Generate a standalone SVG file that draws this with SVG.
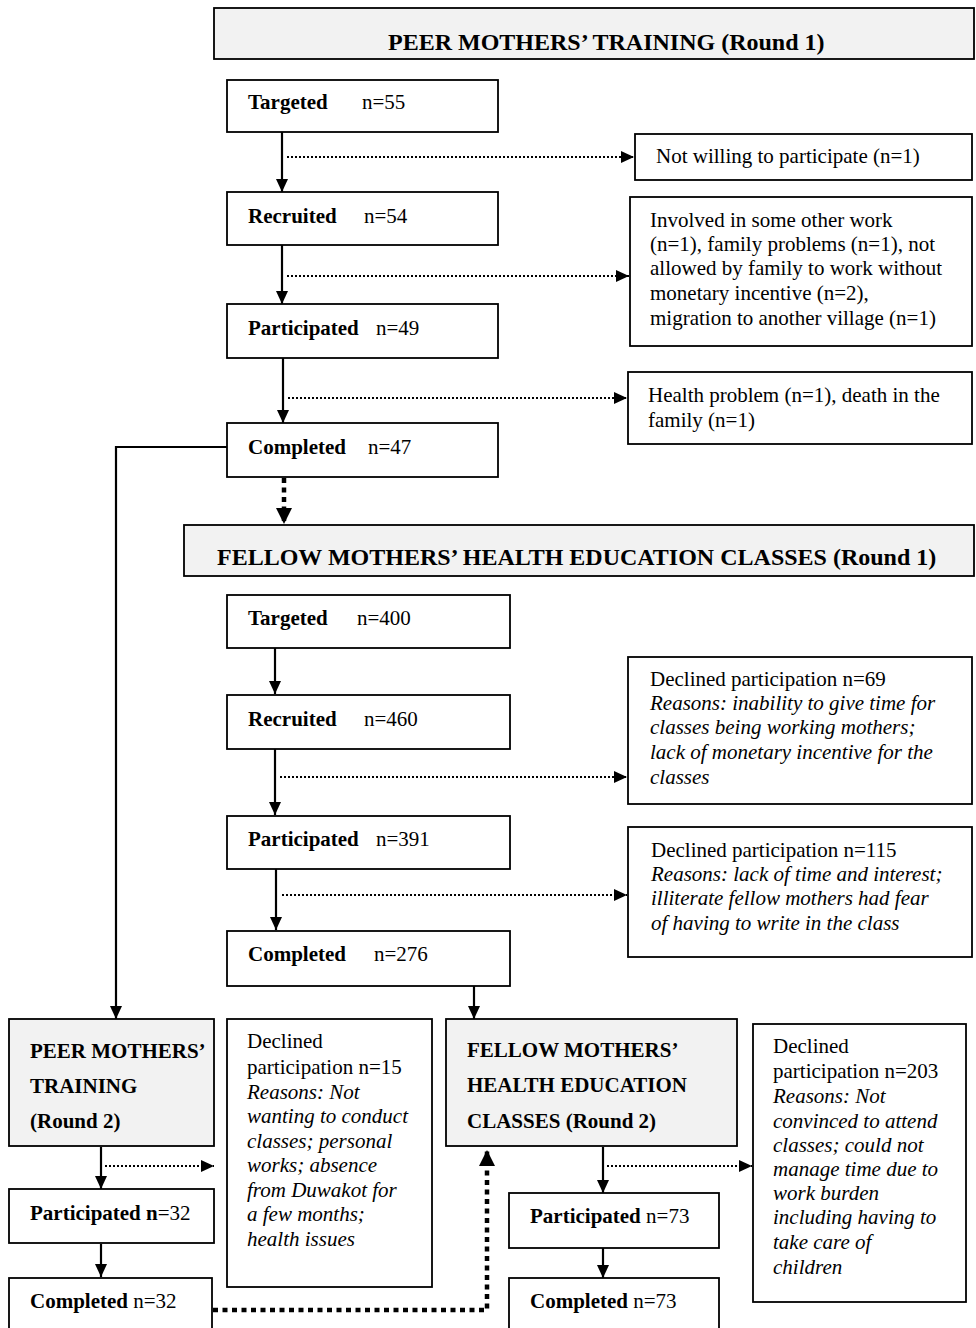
<svg xmlns="http://www.w3.org/2000/svg" width="976" height="1328" viewBox="0 0 976 1328">
<style>
text{font-family:"Liberation Serif","Times New Roman",serif;font-size:21px;fill:#000}
.b{font-weight:bold}
.h{font-weight:bold;font-size:24px}
.i{font-style:italic}
.box{fill:#fff;stroke:#000;stroke-width:1.8}
.hdr{fill:#f2f2f2;stroke:#000;stroke-width:1.8}
.sol{fill:none;stroke:#000;stroke-width:2.2}
.dot{fill:none;stroke:#000;stroke-width:2;stroke-dasharray:2 2}
.thk{fill:none;stroke:#000;stroke-width:4.5;stroke-dasharray:5 4.5}
</style>
<defs>
<marker id="ah" markerUnits="userSpaceOnUse" markerWidth="14" markerHeight="14" refX="13" refY="7" orient="auto"><path d="M0,1 L13,7 L0,13 z" fill="#000"/></marker>
<marker id="ahb" markerUnits="userSpaceOnUse" markerWidth="18" markerHeight="18" refX="16" refY="9" orient="auto"><path d="M0,1 L16,9 L0,17 z" fill="#000"/></marker>
</defs>

<g id="connectors">
<line class="sol" x1="282" y1="132" x2="282" y2="192" marker-end="url(#ah)"/>
<line class="dot" x1="287" y1="157" x2="634" y2="157" marker-end="url(#ah)"/>
<line class="sol" x1="282" y1="245" x2="282" y2="304" marker-end="url(#ah)"/>
<line class="dot" x1="287" y1="276" x2="629" y2="276" marker-end="url(#ah)"/>
<line class="sol" x1="283" y1="358" x2="283" y2="423" marker-end="url(#ah)"/>
<line class="dot" x1="288" y1="398" x2="627" y2="398" marker-end="url(#ah)"/>
<polyline class="sol" points="227,447 116,447 116,1019" marker-end="url(#ah)"/>
<line class="thk" x1="284" y1="478" x2="284" y2="524" marker-end="url(#ahb)"/>
<line class="sol" x1="275" y1="648" x2="275" y2="694" marker-end="url(#ah)"/>
<line class="sol" x1="275" y1="749" x2="275" y2="815" marker-end="url(#ah)"/>
<line class="dot" x1="280" y1="777" x2="627" y2="777" marker-end="url(#ah)"/>
<line class="sol" x1="276" y1="869" x2="276" y2="930" marker-end="url(#ah)"/>
<line class="dot" x1="282" y1="895" x2="627" y2="895" marker-end="url(#ah)"/>
<line class="sol" x1="474" y1="986" x2="474" y2="1019" marker-end="url(#ah)"/>
<line class="sol" x1="101" y1="1147" x2="101" y2="1189" marker-end="url(#ah)"/>
<line class="dot" x1="105" y1="1166" x2="214" y2="1166" marker-end="url(#ah)"/>
<line class="sol" x1="101" y1="1244" x2="101" y2="1277" marker-end="url(#ah)"/>
<line class="sol" x1="603" y1="1147" x2="603" y2="1193" marker-end="url(#ah)"/>
<line class="dot" x1="607" y1="1166" x2="752" y2="1166" marker-end="url(#ah)"/>
<line class="sol" x1="603" y1="1248" x2="603" y2="1278" marker-end="url(#ah)"/>
<polyline class="thk" points="213,1310 487,1310 487,1150" marker-end="url(#ahb)"/>
</g>

<g id="hdr1"><rect class="hdr" x="214" y="8" width="760" height="51"/><text class="h" x="388" y="50">PEER MOTHERS’ TRAINING (Round 1)</text></g>
<g id="targeted1"><rect class="box" x="227" y="80" width="271" height="52"/><text class="b" x="248" y="109">Targeted</text><text x="362" y="109">n=55</text></g>
<g id="notwilling"><rect class="box" x="635" y="134" width="337" height="46"/><text x="656" y="163">Not willing to participate (n=1)</text></g>
<g id="recruited1"><rect class="box" x="227" y="192" width="271" height="53"/><text class="b" x="248" y="223">Recruited</text><text x="364" y="223">n=54</text></g>
<g id="reasons1"><rect class="box" x="630" y="197" width="342" height="149"/>
<text x="650" y="227">Involved in some other work</text>
<text x="650" y="251">(n=1), family problems (n=1), not</text>
<text x="650" y="275">allowed by family to work without</text>
<text x="650" y="300">monetary incentive (n=2),</text>
<text x="650" y="325">migration to another village (n=1)</text></g>
<g id="participated1"><rect class="box" x="227" y="304" width="271" height="54"/><text class="b" x="248" y="335">Participated</text><text x="376" y="335">n=49</text></g>
<g id="health"><rect class="box" x="628" y="372" width="344" height="72"/>
<text x="648" y="402">Health problem (n=1), death in the</text>
<text x="648" y="427">family (n=1)</text></g>
<g id="completed1"><rect class="box" x="227" y="423" width="271" height="54"/><text class="b" x="248" y="454">Completed</text><text x="368" y="454">n=47</text></g>

<g id="hdr2"><rect class="hdr" x="184" y="525" width="790" height="51"/><text class="h" x="217" y="565">FELLOW MOTHERS’ HEALTH EDUCATION CLASSES (Round 1)</text></g>
<g id="targeted2"><rect class="box" x="227" y="595" width="283" height="53"/><text class="b" x="248" y="625">Targeted</text><text x="357" y="625">n=400</text></g>
<g id="declined69"><rect class="box" x="628" y="657" width="344" height="147"/>
<text x="650" y="686">Declined participation n=69</text>
<text class="i" x="650" y="710">Reasons: inability to give time for</text>
<text class="i" x="650" y="734">classes being working mothers;</text>
<text class="i" x="650" y="759">lack of monetary incentive for the</text>
<text class="i" x="650" y="784">classes</text></g>
<g id="recruited2"><rect class="box" x="227" y="695" width="283" height="54"/><text class="b" x="248" y="726">Recruited</text><text x="364" y="726">n=460</text></g>
<g id="participated2"><rect class="box" x="227" y="816" width="283" height="53"/><text class="b" x="248" y="846">Participated</text><text x="376" y="846">n=391</text></g>
<g id="declined115"><rect class="box" x="628" y="827" width="344" height="130"/>
<text x="651" y="857">Declined participation n=115</text>
<text class="i" x="651" y="881">Reasons: lack of time and interest;</text>
<text class="i" x="651" y="905">illiterate fellow mothers had fear</text>
<text class="i" x="651" y="930">of having to write in the class</text></g>
<g id="completed2"><rect class="box" x="227" y="931" width="283" height="55"/><text class="b" x="248" y="961">Completed</text><text x="374" y="961">n=276</text></g>

<g id="peer2"><rect class="hdr" x="9" y="1019" width="205" height="127"/>
<text class="b" x="30" y="1058">PEER MOTHERS’</text>
<text class="b" x="30" y="1093">TRAINING</text>
<text class="b" x="30" y="1128">(Round 2)</text></g>
<g id="declined15"><rect class="box" x="227" y="1019" width="205" height="268"/>
<text x="247" y="1048">Declined</text>
<text x="247" y="1074">participation n=15</text>
<text class="i" x="247" y="1099">Reasons: Not</text>
<text class="i" x="247" y="1123">wanting to conduct</text>
<text class="i" x="247" y="1148">classes; personal</text>
<text class="i" x="247" y="1172">works; absence</text>
<text class="i" x="247" y="1197">from Duwakot for</text>
<text class="i" x="247" y="1221">a few months;</text>
<text class="i" x="247" y="1246">health issues</text></g>
<g id="participated3"><rect class="box" x="9" y="1189" width="205" height="54"/><text x="30" y="1220"><tspan class="b">Participated n</tspan>=32</text></g>
<g id="completed3"><rect class="box" x="9" y="1278" width="203" height="60"/><text x="30" y="1308"><tspan class="b">Completed</tspan> n=32</text></g>

<g id="fellow2"><rect class="hdr" x="446" y="1019" width="291" height="127"/>
<text class="b" x="467" y="1057">FELLOW MOTHERS’</text>
<text class="b" x="467" y="1092">HEALTH EDUCATION</text>
<text class="b" x="467" y="1128">CLASSES (Round 2)</text></g>
<g id="declined203"><rect class="box" x="753" y="1024" width="213" height="278"/>
<text x="773" y="1053">Declined</text>
<text x="773" y="1078">participation n=203</text>
<text class="i" x="773" y="1103">Reasons: Not</text>
<text class="i" x="773" y="1128">convinced to attend</text>
<text class="i" x="773" y="1152">classes; could not</text>
<text class="i" x="773" y="1176">manage time due to</text>
<text class="i" x="773" y="1200">work burden</text>
<text class="i" x="773" y="1224">including having to</text>
<text class="i" x="773" y="1249">take care of</text>
<text class="i" x="773" y="1274">children</text></g>
<g id="participated4"><rect class="box" x="509" y="1193" width="210" height="55"/><text x="530" y="1223"><tspan class="b">Participated</tspan> n=73</text></g>
<g id="completed4"><rect class="box" x="509" y="1278" width="210" height="60"/><text x="530" y="1308"><tspan class="b">Completed</tspan> n=73</text></g>
</svg>
